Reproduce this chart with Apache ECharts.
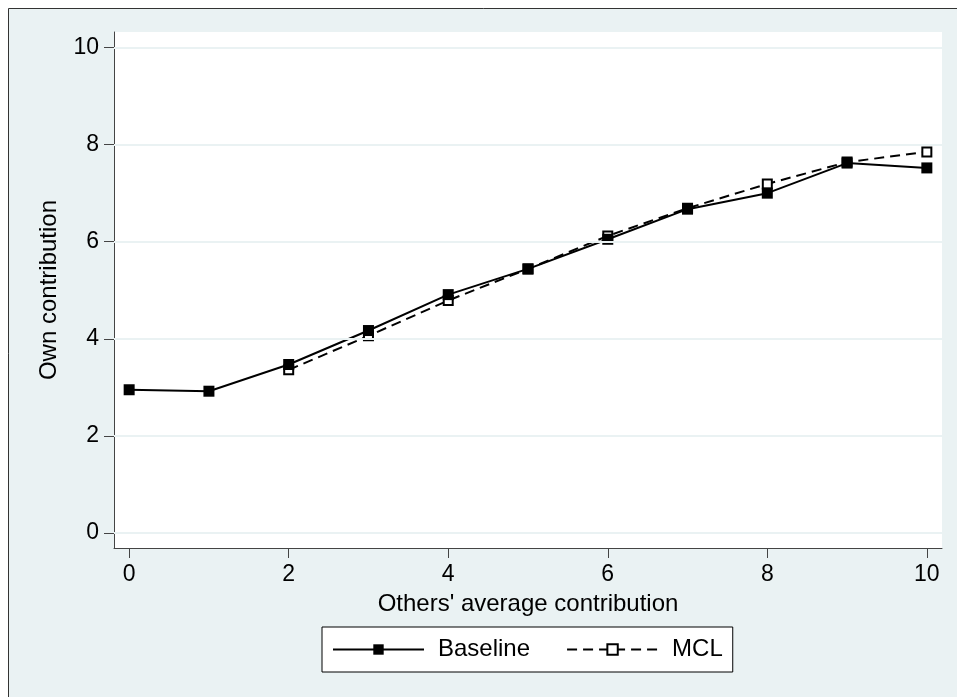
<!DOCTYPE html>
<html>
<head>
<meta charset="utf-8">
<script src="https://cdn.jsdelivr.net/npm/echarts@6/dist/echarts.min.js"></script>
<style>
html,body{margin:0;padding:0;background:#ffffff;}
#chart{width:957px;height:697px;}
</style>
</head>
<body>
<div id="chart"></div>
<script>
// Data
var xValues = [0, 1, 2, 3, 4, 5, 6, 7, 8, 9, 10];
var baseline = [2.95, 2.92, 3.47, 4.17, 4.91, 5.44, 6.05, 6.67, 7.00, 7.62, 7.52];
var mcl = [null, null, 3.36, 4.06, 4.79, 5.44, 6.12, 6.69, 7.19, 7.64, 7.85];
var xTicks = [0, 2, 4, 6, 8, 10];
var yTicks = [0, 2, 4, 6, 8, 10];
var seriesNames = ['Baseline', 'MCL'];
var xTitle = "Others' average contribution";
var yTitle = 'Own contribution';

var FONT = "'Liberation Sans', Arial, Helvetica, sans-serif";
var AXIS_COLOR = '#444444';
var GRID_COLOR = '#eaf2f3';

function pairs(xs, ys) {
  var out = [];
  for (var i = 0; i < xs.length; i++) {
    if (ys[i] !== null && ys[i] !== undefined) out.push([xs[i], ys[i]]);
  }
  return out;
}

var chart = echarts.init(document.getElementById('chart'), null, {renderer: 'canvas'});

var option = {
  animation: false,
  backgroundColor: '#ffffff',
  graphic: [
    {
      type: 'rect', z: -10, silent: true,
      shape: {x: 8.5, y: 8.5, width: 1000, height: 1000},
      style: {fill: '#eaf2f3', stroke: '#333333', lineWidth: 1}
    },
    {
      type: 'rect', z: -9, silent: true,
      shape: {x: 114, y: 32, width: 828, height: 516},
      style: {fill: '#ffffff'}
    }
  ],
  grid: {left: 114, right: 15, top: 32, bottom: 149, containLabel: false},
  legend: {
    data: seriesNames,
    left: 322, top: 627,
    orient: 'horizontal',
    backgroundColor: '#ffffff',
    borderColor: '#000000',
    borderWidth: 1,
    padding: [9, 10, 9, 10],
    itemWidth: 91,
    itemHeight: 13,
    itemGap: 36,
    textStyle: {fontFamily: FONT, fontSize: 24, color: '#000', padding: [0, 0, 0, 9], lineHeight: 27}
  },
  xAxis: {
    type: 'value',
    min: -0.19, max: 10.19,
    name: xTitle,
    nameLocation: 'middle',
    nameGap: 44,
    nameTextStyle: {fontFamily: FONT, fontSize: 24, color: '#000'},
    axisLine: {show: true, onZero: false, lineStyle: {color: AXIS_COLOR, width: 1}},
    axisTick: {show: true, length: 10, customValues: xTicks, lineStyle: {color: AXIS_COLOR, width: 1}},
    axisLabel: {show: true, customValues: xTicks, margin: 15, fontFamily: FONT, fontSize: 23, color: '#000'},
    splitLine: {show: false}
  },
  yAxis: {
    type: 'value',
    min: -0.31, max: 10.32,
    name: yTitle,
    nameLocation: 'middle',
    nameGap: 53,
    nameTextStyle: {fontFamily: FONT, fontSize: 24, color: '#000'},
    axisLine: {show: true, onZero: false, lineStyle: {color: AXIS_COLOR, width: 1}},
    axisTick: {show: true, length: 10, customValues: yTicks, lineStyle: {color: AXIS_COLOR, width: 1}},
    axisLabel: {show: true, customValues: yTicks, margin: 15, fontFamily: FONT, fontSize: 23, color: '#000'},
    splitLine: {show: false}
  },
  series: [
    {
      name: '_grid',
      type: 'line',
      data: [],
      silent: true,
      z: 1,
      markLine: {
        silent: true,
        symbol: ['none', 'none'],
        label: {show: false},
        lineStyle: {color: GRID_COLOR, width: 2, type: 'solid'},
        data: yTicks.map(function (v) { return {yAxis: v}; })
      }
    },
    {
      name: seriesNames[1],
      type: 'line',
      z: 2,
      data: pairs(xValues, mcl),
      symbol: 'rect',
      symbolSize: 9,
      showSymbol: true,
      lineStyle: {color: '#000', width: 2, type: [10, 6]},
      itemStyle: {color: '#ffffff', borderColor: '#000', borderWidth: 2}
    },
    {
      name: seriesNames[0],
      type: 'line',
      z: 3,
      data: pairs(xValues, baseline),
      symbol: 'rect',
      symbolSize: 11,
      showSymbol: true,
      lineStyle: {color: '#000', width: 2, type: 'solid'},
      itemStyle: {color: '#000', borderColor: '#000', borderWidth: 0}
    }
  ]
};
chart.setOption(option);
</script>
</body>
</html>
